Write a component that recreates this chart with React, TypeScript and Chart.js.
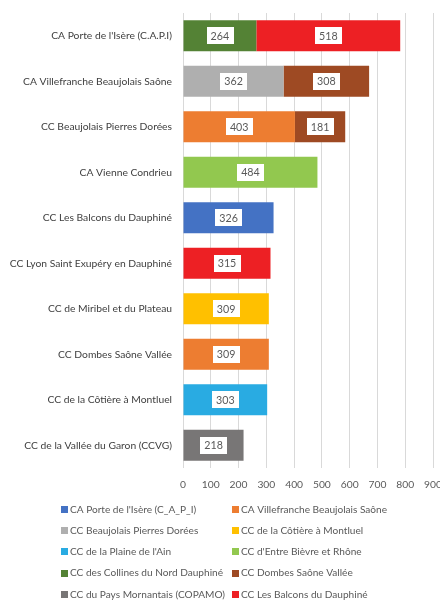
import React, { useEffect, useRef } from "react";
import { Chart, registerables } from "chart.js";

Chart.register(...registerables);

const categories = [
  "CA Porte de l'Isère (C.A.P.I)",
  "CA Villefranche Beaujolais Saône",
  "CC Beaujolais Pierres Dorées",
  "CA Vienne Condrieu",
  "CC Les Balcons du Dauphiné",
  "CC Lyon Saint Exupéry en Dauphiné",
  "CC de Miribel et du Plateau",
  "CC Dombes Saône Vallée",
  "CC de la Côtière à Montluel",
  "CC de la Vallée du Garon (CCVG)",
];

const seriesNames = [
  "CA Porte de l'Isère (C_A_P_I)",
  "CA Villefranche Beaujolais Saône",
  "CC Beaujolais Pierres Dorées",
  "CC de la Côtière à Montluel",
  "CC de la Plaine de l'Ain",
  "CC d'Entre Bièvre et Rhône",
  "CC des Collines du Nord Dauphiné",
  "CC Dombes Saône Vallée",
  "CC du Pays Mornantais (COPAMO)",
  "CC Les Balcons du Dauphiné",
];

const seriesColors = [
  "#4472C4",
  "#ED7D31",
  "#AFAFAF",
  "#FFC000",
  "#29ABE2",
  "#92C84F",
  "#548235",
  "#9E4A23",
  "#787676",
  "#ED2024",
];

const N = null;
const capiValues = [N, N, N, N, 326, N, N, N, N, N];
const villefrancheValues = [N, N, 403, N, N, N, N, 309, N, N];
const pierresDoreesValues = [N, 362, N, N, N, N, N, N, N, N];
const cotiereValues = [N, N, N, N, N, N, 309, N, N, N];
const plaineAinValues = [N, N, N, N, N, N, N, N, 303, N];
const bievreRhoneValues = [N, N, N, 484, N, N, N, N, N, N];
const collinesValues = [264, N, N, N, N, N, N, N, N, N];
const dombesValues = [N, 308, 181, N, N, N, N, N, N, N];
const copamoValues = [N, N, N, N, N, N, N, N, N, 218];
const balconsValues = [518, N, N, N, N, 315, N, N, N, N];

const seriesValues = [
  capiValues,
  villefrancheValues,
  pierresDoreesValues,
  cotiereValues,
  plaineAinValues,
  bievreRhoneValues,
  collinesValues,
  dombesValues,
  copamoValues,
  balconsValues,
];

const xTicks = [0, 100, 200, 300, 400, 500, 600, 700, 800, 900];

const FONT = "Lato, 'Open Sans', sans-serif";
const FS = 10.3;
const LEGEND_FS = 10.1;

const dataLabelPlugin = {
  id: "dataLabels",
  afterDatasetsDraw(chart: any) {
    const ctx = chart.ctx;
    ctx.save();
    ctx.font = `10.7px ${FONT}`;
    ctx.textAlign = "center";
    ctx.textBaseline = "middle";
    chart.data.datasets.forEach((ds: any, di: number) => {
      const meta = chart.getDatasetMeta(di);
      meta.data.forEach((el: any, i: number) => {
        const v = ds.data[i];
        if (v === null || v === undefined) return;
        const cx = (el.x + el.base) / 2;
        const cy = el.y;
        const text = String(v);
        const w = ctx.measureText(text).width + 8;
        const h = 17;
        ctx.fillStyle = "#ffffff";
        ctx.fillRect(Math.round(cx - w / 2), Math.round(cy - h / 2), Math.round(w), h);
        ctx.fillStyle = "#595959";
        ctx.fillText(text, cx, cy + 0.5);
      });
    });
    ctx.restore();
  },
};

const gridLegendPlugin = {
  id: "gridLegend",
  afterDraw(chart: any) {
    const ctx = chart.ctx;
    ctx.save();
    ctx.font = `${LEGEND_FS}px ${FONT}`;
    ctx.textAlign = "left";
    ctx.textBaseline = "middle";
    const colX = [61, 232];
    const rowY0 = 509.5;
    const rowStep = 21.2;
    chart.data.datasets.forEach((ds: any, i: number) => {
      const col = i % 2;
      const row = Math.floor(i / 2);
      const x = colX[col];
      const y = rowY0 + row * rowStep;
      ctx.fillStyle = ds.backgroundColor;
      ctx.fillRect(x, Math.round(y - 3.5), 7, 7);
      ctx.fillStyle = "#595959";
      ctx.fillText(ds.label, x + 9, y);
    });
    ctx.restore();
  },
};

export default function App() {
  const canvasRef = useRef<HTMLCanvasElement | null>(null);

  useEffect(() => {
    if (!canvasRef.current) return;
    const chart = new Chart(canvasRef.current, {
      type: "bar",
      data: {
        labels: categories,
        datasets: seriesNames.map((name, i) => ({
          label: name,
          data: seriesValues[i],
          backgroundColor: seriesColors[i],
          borderWidth: 0,
          barPercentage: 0.68,
          categoryPercentage: 1,
        })),
      },
      options: {
        indexAxis: "y",
        animation: false,
        responsive: false,
        maintainAspectRatio: false,
        layout: { padding: { top: 13, left: 0, right: 7, bottom: 108 } },
        plugins: {
          legend: { display: false },
          tooltip: { enabled: false },
        },
        scales: {
          x: {
            stacked: true,
            min: 0,
            max: 900,
            afterBuildTicks(scale: any) {
              scale.ticks = xTicks.map((v) => ({ value: v }));
            },
            afterFit(scale: any) {
              scale.height = 25;
              scale.paddingRight = 0;
              scale.paddingLeft = 0;
              scale.paddingTop = 0;
              scale.paddingBottom = 0;
            },
            grid: { color: "#D9D9D9", drawTicks: false, lineWidth: 1 },
            border: { display: false },
            ticks: {
              color: "#595959",
              font: { family: FONT, size: FS },
              padding: 10,
              maxRotation: 0,
              autoSkip: false,
            },
          },
          y: {
            stacked: true,
            afterFit(scale: any) {
              scale.width = 183;
              scale.paddingTop = 0;
              scale.paddingBottom = 0;
              scale.paddingLeft = 0;
              scale.paddingRight = 0;
            },
            grid: { display: false, drawTicks: false },
            border: { display: false },
            ticks: {
              color: "#404040",
              font: { family: FONT, size: FS },
              padding: 11,
              autoSkip: false,
            },
          },
        },
      },
      plugins: [dataLabelPlugin, gridLegendPlugin],
    });
    return () => chart.destroy();
  }, []);

  return (
    <div style={{ position: "absolute", left: 0, top: 0, width: 440, height: 601, background: "#fff" }}>
      <canvas ref={canvasRef} width={440} height={601} style={{ width: 440, height: 601 }} />
    </div>
  );
}
